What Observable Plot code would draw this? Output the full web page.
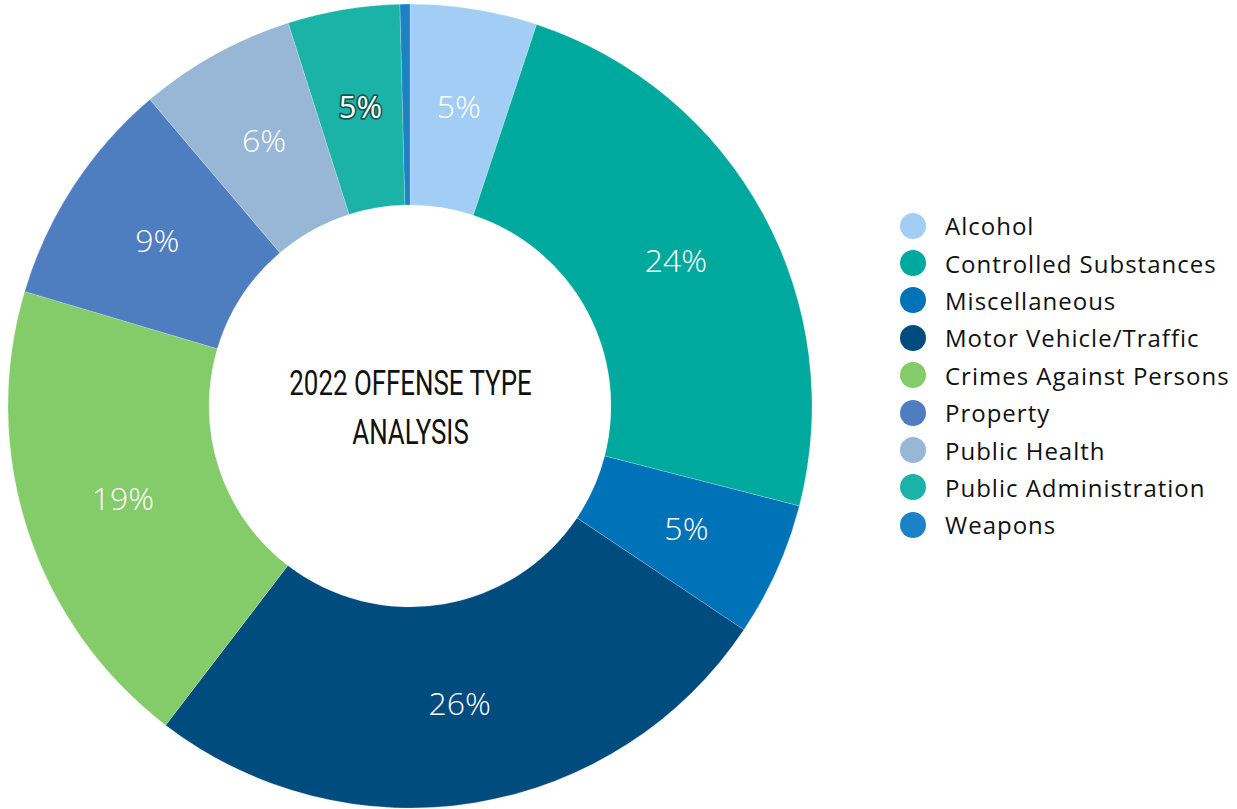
<!DOCTYPE html>
<html>
<head>
<meta charset="utf-8">
<script src="https://cdn.jsdelivr.net/npm/d3@7"></script>
<script src="https://cdn.jsdelivr.net/npm/@observablehq/plot@0.6"></script>
<style>
  html, body { margin: 0; padding: 0; background: #fff; }
  #wrap { position: relative; width: 1237px; height: 809px; overflow: hidden; }
  #legend { position: absolute; left: 900px; top: 207px; font-family: "Open Sans", Lato, sans-serif; font-size: 24px; letter-spacing: 1px; color: #111; }
  .row { display: flex; align-items: center; height: 37.4px; white-space: nowrap; }
  .sw { width: 26px; height: 26px; border-radius: 50%; margin-right: 19px; flex: none; }
</style>
</head>
<body>
<div id="wrap"><div id="legend"></div></div>
<script>
const categories = ["Alcohol", "Controlled Substances", "Miscellaneous", "Motor Vehicle/Traffic", "Crimes Against Persons", "Property", "Public Health", "Public Administration", "Weapons"];
const values = [5.1, 23.9, 5.4, 26.0, 19.2, 9.2, 6.3, 4.5, 0.4];
const labels = ["5%", "24%", "5%", "26%", "19%", "9%", "6%", "5%", ""];
const colors = ["#a2cef5", "#00a99d", "#0072b8", "#004c7e", "#84cb6a", "#4f7ec0", "#98b7d6", "#1bb3a7", "#1b83c5"];
const titleLines = ["2022 OFFENSE TYPE", "ANALYSIS"];

const INNER = 0.5, LABEL_R = 0.752;
const arcs = d3.pie().sort(null).value(d => d)(values).map((a, i) => ({
  name: categories[i], value: values[i], label: labels[i], color: colors[i],
  start: a.startAngle, end: a.endAngle, mid: (a.startAngle + a.endAngle) / 2
}));
const labelData = arcs.filter(d => d.label).map(d => ({
  ...d, lx: LABEL_R * Math.sin(d.mid), ly: LABEL_R * Math.cos(d.mid)
}));

function donut(index, scales) {
  const cx = scales.x(0), cy = scales.y(0);
  const R = scales.x(1) - scales.x(0);
  const arc = d3.arc().innerRadius(R * INNER).outerRadius(R);
  const g = d3.create("svg:g").attr("transform", `translate(${cx},${cy})`);
  g.selectAll("path").data(arcs).join("path")
    .attr("d", d => arc({startAngle: d.start, endAngle: d.end}))
    .attr("fill", d => d.color)
    .attr("stroke", "#ffffff")
    .attr("stroke-opacity", 0.35)
    .attr("stroke-width", 0.6);
  return g.node();
}

const labelFont = "'Open Sans', Lato, sans-serif";
const plot = Plot.plot({
  width: 1237,
  height: 809,
  marginLeft: 8,
  marginRight: 425,
  marginTop: 4,
  marginBottom: 1,
  x: {domain: [-1, 1], axis: null},
  y: {domain: [-1, 1], axis: null},
  style: {background: "transparent"},
  marks: [
    donut,
    Plot.text(labelData.filter(d => d.name !== "Public Administration"), {
      x: "lx", y: "ly", text: "label", fill: "#ffffff",
      fontSize: 32, fontWeight: 300, fontFamily: labelFont
    }),
    Plot.text(labelData.filter(d => d.name === "Public Administration"), {
      x: "lx", y: "ly", text: "label", fill: "#ffffff",
      stroke: "#0d2e2b", strokeWidth: 3.5, strokeOpacity: 0.7,
      fontSize: 31, fontWeight: 400, fontFamily: labelFont
    }),
    Plot.text([titleLines.join("\n")], {
      x: () => 0, y: () => 0, text: d => d, fill: "#111",
      fontSize: 35, fontWeight: 400, lineHeight: 1.4, dy: -3,
      fontFamily: "Roboto, 'Liberation Sans', sans-serif"
    })
  ]
});
document.getElementById("wrap").prepend(plot);

// condense the centre title horizontally
const textGroups = plot.querySelectorAll('g[aria-label="text"]');
const titleG = textGroups[textGroups.length - 1];
const bb = titleG.getBBox();
const tcx = bb.x + bb.width / 2;
const prev = titleG.getAttribute("transform") || "";
titleG.setAttribute("transform", `${prev} translate(${tcx},0) scale(0.74,1) translate(${-tcx},0)`);

const legend = document.getElementById("legend");
categories.forEach((c, i) => {
  const row = document.createElement("div");
  row.className = "row";
  const sw = document.createElement("span");
  sw.className = "sw";
  sw.style.background = colors[i];
  const t = document.createElement("span");
  t.textContent = c;
  row.append(sw, t);
  legend.append(row);
});
</script>
</body>
</html>
